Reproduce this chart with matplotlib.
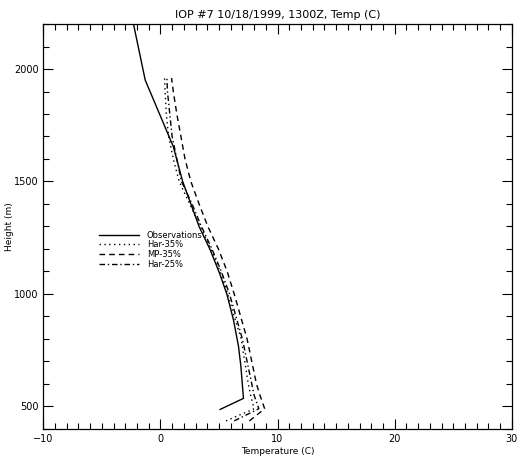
import matplotlib
matplotlib.use("Agg")
import matplotlib.pyplot as plt
from matplotlib.ticker import MultipleLocator

# Observations
obs_temp = [-2.3, -1.3, 1.1, 1.9, 3.3, 4.25, 5.05, 5.67, 6.24, 6.67, 6.87, 7.09, 5.1]
obs_hgt = [2200, 1951, 1655, 1500, 1300, 1196, 1092, 1000, 884, 766, 678, 536, 487]

# Model runs
mod_hgt = [436, 490, 550, 600, 700, 800, 900, 1000, 1100, 1200, 1300, 1400, 1500, 1600, 1700, 1800, 1900, 1960]
har35_temp = [5.6, 8.0, 7.7, 7.5, 7.2, 6.9, 6.3, 5.75, 5.1, 4.3, 3.4, 2.5, 1.6, 1.1, 0.7, 0.5, 0.4, 0.35]
mp35_temp = [7.6, 8.9, 8.5, 8.2, 7.8, 7.4, 6.85, 6.3, 5.7, 4.95, 4.05, 3.3, 2.6, 2.1, 1.75, 1.4, 1.1, 0.95]
har25_temp = [6.3, 8.4, 8.0, 7.8, 7.4, 7.0, 6.45, 5.9, 5.2, 4.4, 3.5, 2.7, 1.8, 1.4, 1.0, 0.8, 0.6, 0.55]

title = "IOP #7 10/18/1999, 1300Z, Temp (C)"
xlabel = "Temperature (C)"
ylabel = "Height (m)"
labels = ["Observations", "Har-35%", "MP-35%", "Har-25%"]

fig = plt.figure(figsize=(5.18, 4.59), dpi=100)
ax = fig.add_axes([0.0836, 0.0654, 0.9044, 0.8823])

ax.plot(obs_temp, obs_hgt, color="black", lw=1.0, ls="-", label=labels[0])
ax.plot(har35_temp, mod_hgt, color="black", lw=1.0, ls=(0, (1, 2.5)), label=labels[1])
ax.plot(mp35_temp, mod_hgt, color="black", lw=1.0, ls=(0, (4, 3)), label=labels[2])
ax.plot(har25_temp, mod_hgt, color="black", lw=1.0, ls=(0, (4, 2, 1, 2)), label=labels[3])

ax.set_xlim(-10, 30)
ax.set_ylim(400, 2200)
ax.xaxis.set_major_locator(MultipleLocator(10))
ax.xaxis.set_minor_locator(MultipleLocator(1))
ax.yaxis.set_major_locator(MultipleLocator(500))
ax.yaxis.set_minor_locator(MultipleLocator(100))
ax.tick_params(which="both", direction="in", top=True, right=True, labelsize=7, width=0.8)
ax.tick_params(which="major", length=7)
ax.tick_params(which="minor", length=4)
for s in ax.spines.values():
    s.set_linewidth(0.9)

ax.set_title(title, fontsize=8, pad=4)
ax.set_xlabel(xlabel, fontsize=6.5, labelpad=2)
ax.set_ylabel(ylabel, fontsize=6.5)
ax.yaxis.set_label_coords(-0.062, 0.5)

ax.legend(loc="upper left", bbox_to_anchor=(0.118, 0.49), frameon=False, fontsize=6,
          handlelength=4.8, handletextpad=1.0, labelspacing=0.1, borderpad=0, borderaxespad=0)

fig.savefig("out.png", dpi=100)
